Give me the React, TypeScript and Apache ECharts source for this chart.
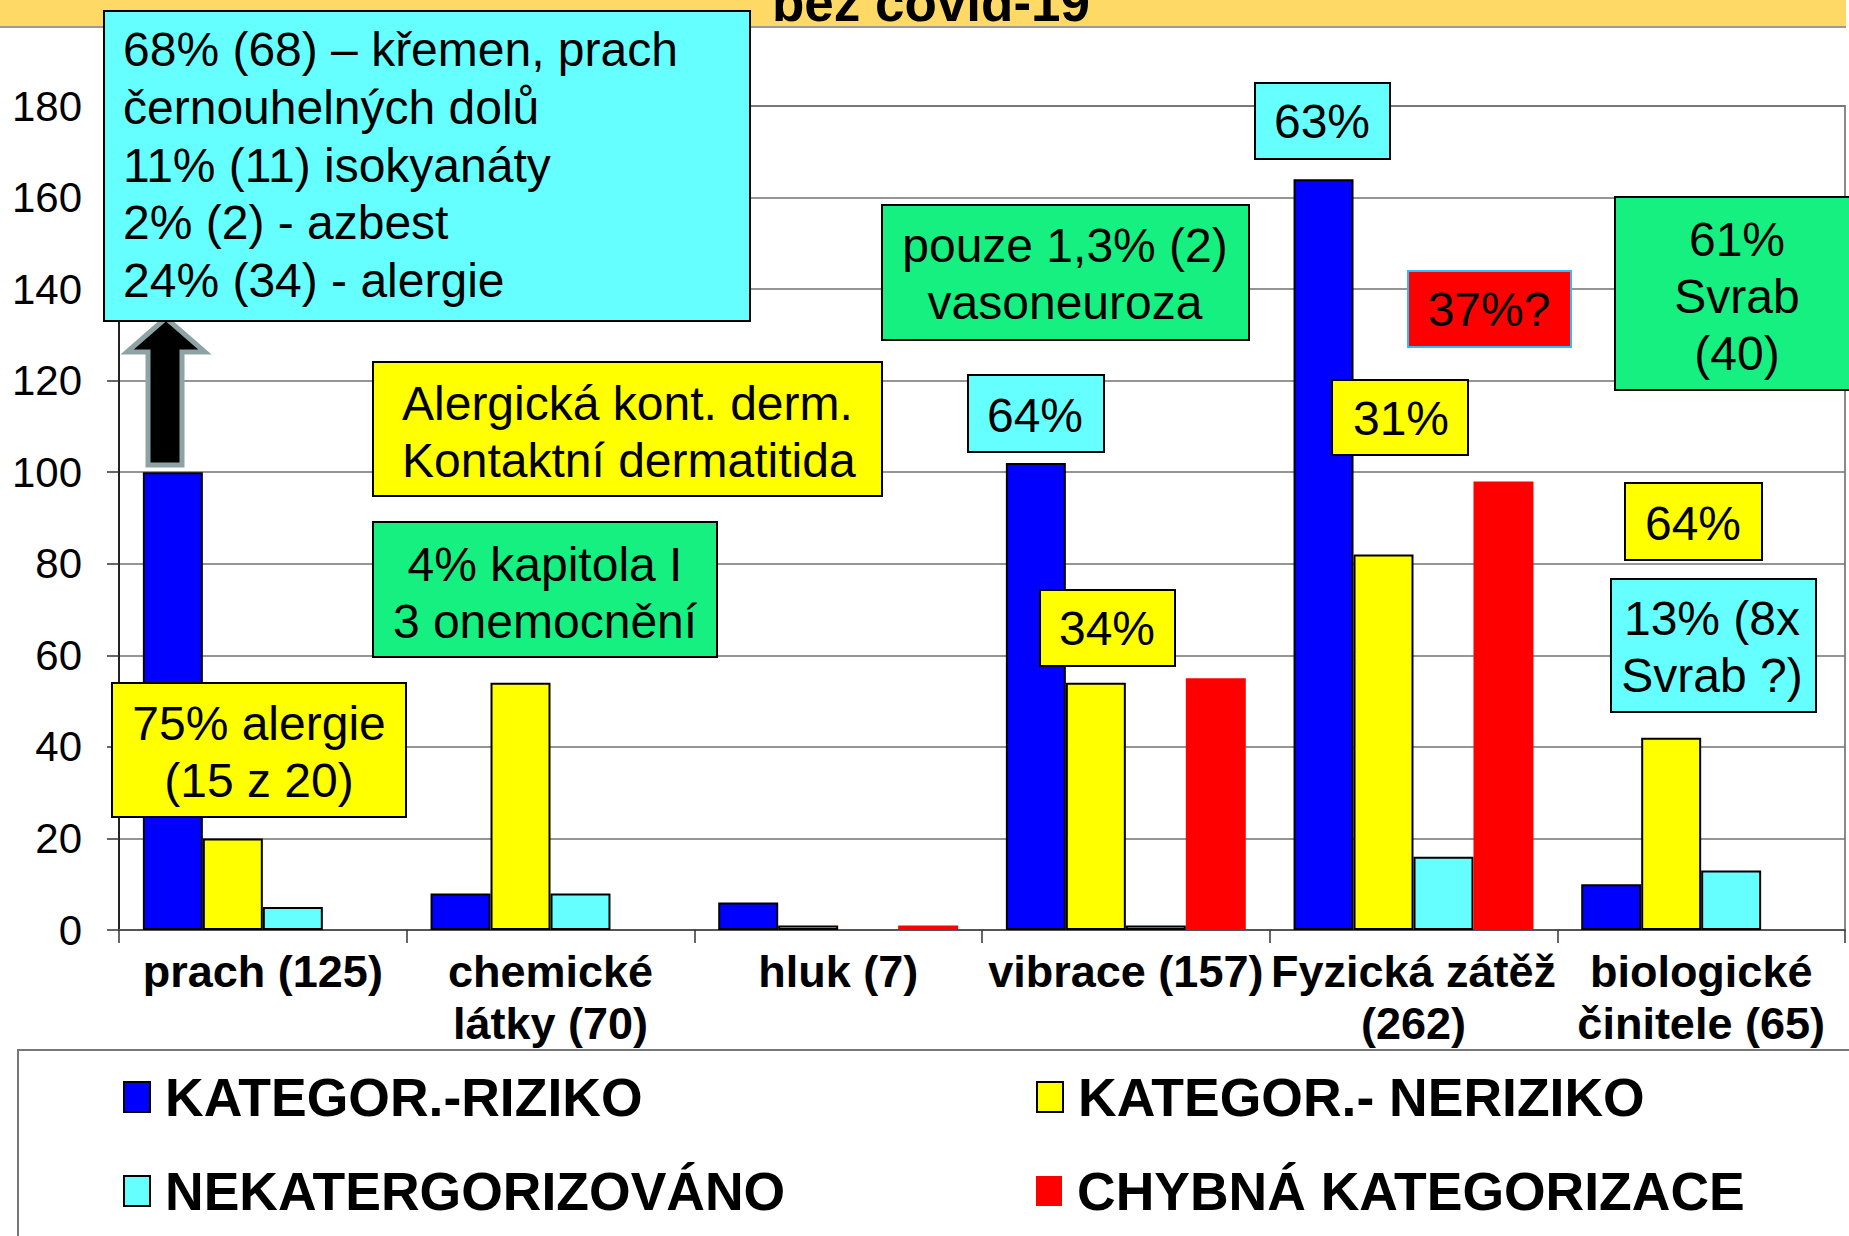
import React, { useEffect, useRef } from "react";
import * as echarts from "echarts";

const categories = [
  "prach (125)",
  "chemické\nlátky (70)",
  "hluk (7)",
  "vibrace (157)",
  "Fyzická zátěž\n(262)",
  "biologické\nčinitele (65)",
];
const seriesNames = [
  "KATEGOR.-RIZIKO",
  "KATEGOR.- NERIZIKO",
  "NEKATERGORIZOVÁNO",
  "CHYBNÁ KATEGORIZACE",
];
const rizikoValues = [100, 8, 6, 102, 164, 10];
const nerizikoValues = [20, 54, 1, 54, 82, 42];
const nekategValues = [5, 8, 0, 1, 16, 13];
const chybnaValues = [0, 0, 1, 55, 98, 0];
const yMin = 0;
const yMax = 180;
const yInterval = 20;

const titleText = "bez covid-19";
const noteDust = "68% (68) – křemen, prach\nčernouhelných dolů\n11% (11) isokyanáty\n2% (2) - azbest\n24% (34) - alergie";
const noteDerm = "Alergická kont. derm.\nKontaktní dermatitida";
const noteChapter = "4% kapitola I\n3 onemocnění";
const noteAllergy = "75% alergie\n(15 z 20)";
const noteVaso = "pouze 1,3% (2)\nvasoneuroza";
const note63 = "63%";
const note37 = "37%?";
const noteSvrab = "61%\nSvrab\n(40)";
const note64a = "64%";
const note31 = "31%";
const note34 = "34%";
const note64b = "64%";
const note13 = "13% (8x\nSvrab ?)";

const FONT = "'Liberation Sans', Arial, sans-serif";
const BLUE = "#0000FF";
const YELLOW = "#FFFF00";
const CYAN = "#66FFFF";
const RED = "#FF0000";
const GREEN = "#16F081";

function box(
  x: number,
  y: number,
  w: number,
  h: number,
  fill: string,
  text: string,
  tx: number,
  ty: number,
  align: "left" | "center" = "center",
  stroke = "#000"
) {
  return {
    type: "group",
    z: 100,
    children: [
      {
        type: "rect",
        z: 100,
        shape: { x, y, width: w, height: h },
        style: { fill, stroke, lineWidth: 2 },
      },
      {
        type: "text",
        z: 101,
        x: tx,
        y: ty,
        style: {
          text,
          fill: "#000",
          fontSize: 48,
          fontFamily: FONT,
          lineHeight: 57,
          align,
          verticalAlign: "middle",
        },
      },
    ],
  };
}

function barData(values: number[], bordered: boolean) {
  return values.map((v) =>
    v === 0 ? { value: v, itemStyle: { borderWidth: 0 } } : { value: v, itemStyle: { borderWidth: bordered ? 2 : 0 } }
  );
}

export default function App() {
  const ref = useRef<HTMLDivElement>(null);

  useEffect(() => {
    if (!ref.current) return;
    const chart = echarts.init(ref.current, undefined, { renderer: "svg" });

    const barBase = {
      type: "bar",
      barGap: "0%",
      barCategoryGap: "16.6%",
    };

    const legendCommon = {
      orient: "horizontal",
      icon: "rect",
      itemWidth: 26,
      itemHeight: 30,
      selectedMode: false,
      textStyle: {
        fontFamily: FONT,
        fontSize: 53.5,
        fontWeight: "bold",
        color: "#000",
        padding: [0, 0, 0, 10],
      },
    };

    const option = {
      animation: false,
      backgroundColor: "#fff",
      grid: {
        left: 119,
        right: 4,
        top: 106,
        bottom: 306,
        show: true,
        borderColor: "#8a8a8a",
        borderWidth: 2,
        backgroundColor: "transparent",
      },
      xAxis: {
        type: "category",
        data: categories,
        axisLine: { lineStyle: { color: "#555", width: 2 } },
        axisTick: { show: true, length: 13, lineStyle: { color: "#333", width: 1.5 } },
        axisLabel: {
          interval: 0,
          margin: 15,
          fontFamily: FONT,
          fontSize: 45,
          fontWeight: "bold",
          lineHeight: 52,
          color: "#000",
          hideOverlap: false,
        },
      },
      yAxis: {
        type: "value",
        min: yMin,
        max: yMax,
        interval: yInterval,
        axisLine: { show: true, lineStyle: { color: "#000", width: 1.5 } },
        axisTick: { show: true, length: 12, lineStyle: { color: "#333", width: 1.5 } },
        axisLabel: {
          margin: 37,
          fontFamily: FONT,
          fontSize: 42,
          color: "#000",
        },
        splitLine: { lineStyle: { color: "#727272", width: 1.6 } },
      },
      legend: [
        { ...legendCommon, data: [seriesNames[0]], left: 118, top: 1065 },
        { ...legendCommon, data: [seriesNames[1]], left: 1031, top: 1065 },
        { ...legendCommon, data: [seriesNames[2]], left: 118, top: 1159 },
        { ...legendCommon, data: [seriesNames[3]], left: 1031, top: 1159 },
      ],
      series: [
        {
          ...barBase,
          name: seriesNames[0],
          data: barData(rizikoValues, true),
          itemStyle: { color: BLUE, borderColor: "#000", borderWidth: 2 },
        },
        {
          ...barBase,
          name: seriesNames[1],
          data: barData(nerizikoValues, true),
          itemStyle: { color: YELLOW, borderColor: "#000", borderWidth: 2 },
        },
        {
          ...barBase,
          name: seriesNames[2],
          data: barData(nekategValues, true),
          itemStyle: { color: CYAN, borderColor: "#000", borderWidth: 2 },
        },
        {
          ...barBase,
          name: seriesNames[3],
          data: barData(chybnaValues, false),
          itemStyle: { color: RED, borderWidth: 0 },
        },
      ],
      graphic: [
        {
          type: "rect",
          z: 50,
          shape: { x: 0, y: 0, width: 1846, height: 26 },
          style: { fill: "#FFD966" },
        },
        {
          type: "rect",
          z: 50,
          shape: { x: 0, y: 26, width: 1846, height: 2 },
          style: { fill: "#9a9a9a" },
        },
        {
          type: "text",
          z: 51,
          x: 931,
          y: 2,
          style: {
            text: titleText,
            fill: "#000",
            fontFamily: FONT,
            fontSize: 53,
            fontWeight: "bold",
            align: "center",
            verticalAlign: "middle",
          },
        },
        {
          type: "rect",
          z: 1,
          shape: { x: 18, y: 1050, width: 1900, height: 300 },
          style: { fill: "transparent", stroke: "#777", lineWidth: 2 },
        },
        {
          type: "polygon",
          z: 100,
          shape: {
            points: [
              [166, 318],
              [127, 352],
              [148, 352],
              [148, 465],
              [182, 465],
              [182, 352],
              [205, 352],
            ],
          },
          style: { fill: "#000", stroke: "#8DA3A6", lineWidth: 5 },
        },
        {
          type: "group",
          z: 100,
          children: [
            {
              type: "rect",
              z: 100,
              shape: { x: 104, y: 11, width: 646, height: 310 },
              style: { fill: CYAN, stroke: "#000", lineWidth: 2 },
            },
            {
              type: "text",
              z: 101,
              x: 123,
              y: 21,
              style: {
                text: noteDust,
                fill: "#000",
                fontFamily: FONT,
                fontSize: 48,
                lineHeight: 57.7,
                align: "left",
                verticalAlign: "top",
              },
            },
          ],
        },
        box(373, 362, 509, 134, YELLOW, noteDerm, 402, 431.5, "left"),
        box(373, 522, 344, 135, GREEN, noteChapter, 545, 592.5),
        box(112, 683, 294, 134, YELLOW, noteAllergy, 259, 751.5),
        box(882, 205, 367, 135, GREEN, noteVaso, 1065, 273.5),
        box(1255, 83, 135, 76, CYAN, note63, 1322, 121.5),
        box(1408, 271, 163, 76, RED, note37, 1489, 309, "center", "#33BBFF"),
        box(1615, 197, 240, 193, GREEN, noteSvrab, 1737, 296),
        box(968, 375, 136, 77, CYAN, note64a, 1035, 415),
        box(1332, 380, 136, 75, YELLOW, note31, 1401, 418.5),
        box(1040, 590, 135, 76, YELLOW, note34, 1107, 628.5),
        box(1625, 483, 137, 77, YELLOW, note64b, 1693, 523.5),
        box(1611, 579, 205, 133, CYAN, note13, 1712, 647),
      ],
    };

    chart.setOption(option as any);
    return () => chart.dispose();
  }, []);

  return (
    <div
      ref={ref}
      style={{
        position: "fixed",
        left: 0,
        top: 0,
        width: "1849px",
        height: "1236px",
        background: "#fff",
      }}
    />
  );
}
